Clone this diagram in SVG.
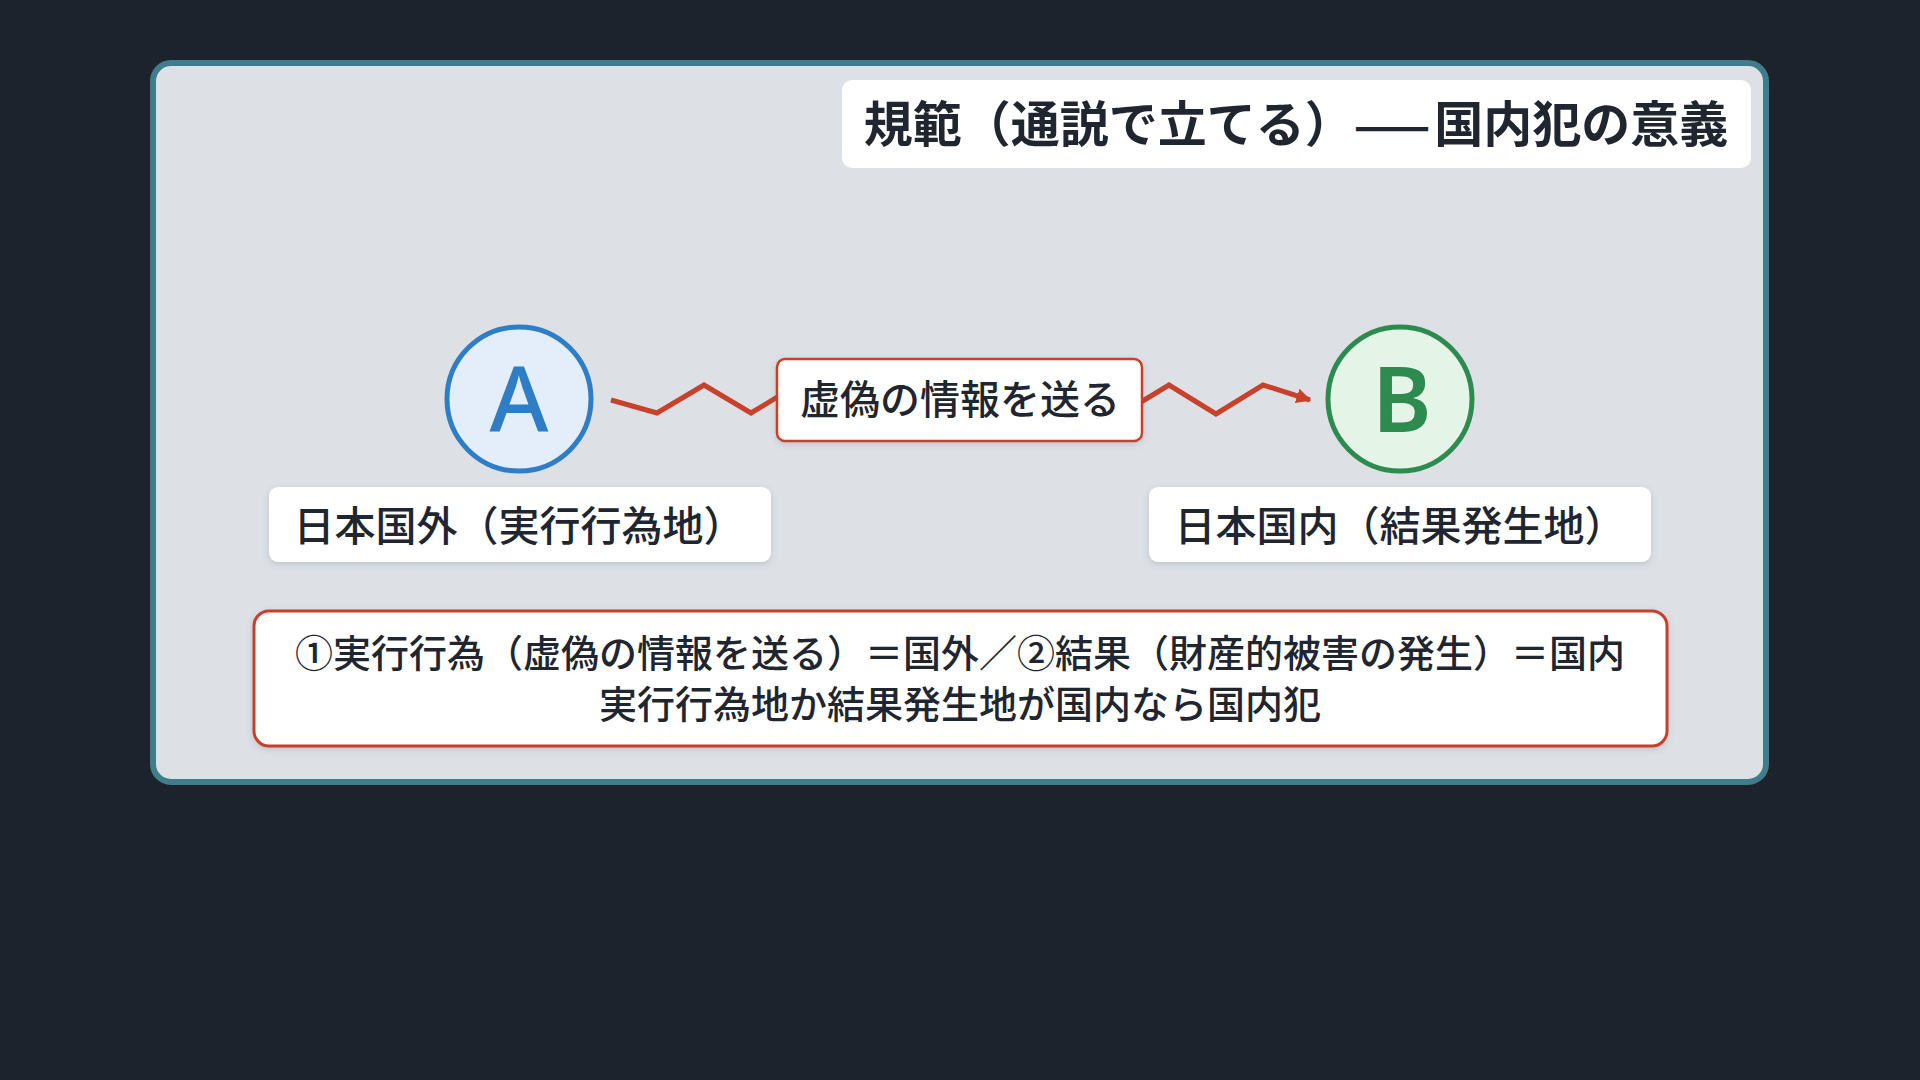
<svg xmlns="http://www.w3.org/2000/svg" width="1920" height="1080" viewBox="0 0 1920 1080">
<defs>
<style>
.t{font-family:"Noto Sans CJK JP","Noto Sans",sans-serif;fill:#1f2630;}
.title{font-size:49px;font-weight:600;}
.lbl{font-size:41px;font-weight:500;}
.mid{font-size:40px;font-weight:500;}
.note{font-size:38px;font-weight:500;}
.box{fill:#ffffff;}
.zig{fill:none;stroke:#c8412b;stroke-width:5;stroke-linejoin:miter;stroke-linecap:butt;}
</style>
<filter id="sh" x="-10%" y="-20%" width="120%" height="150%">
<feDropShadow dx="0" dy="2" stdDeviation="3" flood-color="#4a5868" flood-opacity="0.22"/>
</filter>
<marker id="arr" viewBox="0 0 10 10" refX="9" refY="5" markerWidth="3" markerHeight="3" orient="auto" markerUnits="strokeWidth">
<path d="M0,0 L10,5 L0,10 z" fill="#c8412b"/>
</marker>
</defs>
<rect width="1920" height="1080" fill="#1d232d"/>
<rect x="153" y="63" width="1613" height="719" rx="18" fill="#dde1e6" stroke="#3f7d8a" stroke-width="6"/>
<g id="title">
<rect class="box" x="842" y="80" width="909" height="88" rx="10"/>
<text class="t title" x="1296" y="142" text-anchor="middle">規範（通説で立てる）<tspan font-size="45" letter-spacing="4">——</tspan>国内犯の意義</text>
</g>
<g id="connectors">
<path class="zig" d="M611,400 L657,413 L704,385 L751,413 L797,385 L844,413 L890,385 L937,413 L983,385 L1030,413 L1076,385 L1123,413 L1169,385 L1216,414 L1263,385 L1310,400" marker-end="url(#arr)"/>
</g>
<g id="nodeA">
<circle cx="519" cy="399" r="72" fill="#e3eefa" stroke="#2f7ec5" stroke-width="5"/>
<text x="519" y="432" text-anchor="middle" font-family="Noto Sans, sans-serif" font-size="90" font-weight="500" fill="#2f7ec5">A</text>
</g>
<g id="nodeB">
<circle cx="1400" cy="399" r="72" fill="#e4f5e8" stroke="#2e8b50" stroke-width="5"/>
<text x="1402" y="432" text-anchor="middle" font-family="Noto Sans, sans-serif" font-size="90" font-weight="600" fill="#2e8b50">B</text>
</g>
<g id="edgeLabel">
<rect class="box" x="777" y="359" width="365" height="82" rx="8" stroke="#c8412b" stroke-width="2.5" filter="url(#sh)"/>
<text class="t mid" x="960" y="414" text-anchor="middle">虚偽の情報を送る</text>
</g>
<g id="labelA">
<rect class="box" x="269" y="487" width="502" height="75" rx="9" filter="url(#sh)"/>
<text class="t lbl" x="519" y="541" text-anchor="middle">日本国外（実行行為地）</text>
</g>
<g id="labelB">
<rect class="box" x="1149" y="487" width="502" height="75" rx="9" filter="url(#sh)"/>
<text class="t lbl" x="1400" y="541" text-anchor="middle">日本国内（結果発生地）</text>
</g>
<g id="note">
<rect class="box" x="254" y="611" width="1413" height="135" rx="15" stroke="#c8412b" stroke-width="3" filter="url(#sh)"/>
<text class="t note" x="960" y="667" text-anchor="middle">①実行行為（虚偽の情報を送る）＝国外／②結果（財産的被害の発生）＝国内</text>
<text class="t note" x="960" y="718" text-anchor="middle">実行行為地か結果発生地が国内なら国内犯</text>
</g>
</svg>
